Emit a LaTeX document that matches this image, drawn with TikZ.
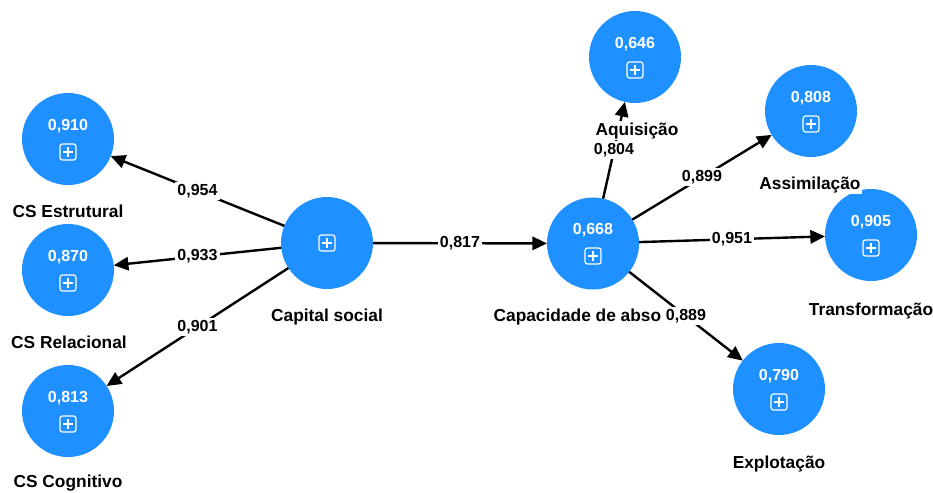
\documentclass[tikz,border=0pt]{standalone}
\usepackage{fontspec}
\setmainfont{Liberation Sans}
\usetikzlibrary{arrows.meta}
\definecolor{lvblue}{RGB}{30,144,255}
\begin{document}
\begin{tikzpicture}[x=0.75pt,y=-0.75pt,
  lv/.style={circle, fill=lvblue, minimum size=69pt, inner sep=0pt, outer sep=0pt},
  val/.style={text=white, font=\fontsize{12}{14}\selectfont\bfseries, inner sep=0pt},
  plusbox/.style={draw=white, line width=0.9pt, rounded corners=1.8pt,
    minimum size=12pt, inner sep=0pt,
    path picture={\draw[white,line width=0.9pt]
      ([xshift=-3.6pt]path picture bounding box.center) -- ([xshift=3.6pt]path picture bounding box.center)
      ([yshift=-3.6pt]path picture bounding box.center) -- ([yshift=3.6pt]path picture bounding box.center);}},
  lvname/.style={fill=white, inner sep=1pt, anchor=base, font=\fontsize{13}{15}\selectfont\bfseries},
  link/.style={line width=1.8pt, -{Triangle[length=11pt,width=10pt]}},
  wt/.style={fill=white, inner sep=1.5pt, font=\fontsize{12}{14}\selectfont\bfseries}
]
\useasboundingbox (0,0) rectangle (933,493);

% latent variables
\node[lv] (est) at (68,139) {};
\node[lv] (rel) at (68,270) {};
\node[lv] (cog) at (68,411) {};
\node[lv] (cs)  at (327,243) {};
\node[lv] (cap) at (593,243.5) {};
\node[lv] (aqu) at (635,57) {};
\node[lv] (ass) at (811,111) {};
\node[lv] (tra) at (871,235) {};
\node[lv] (exp) at (779,389) {};

% R-squared values and expand icons
\node[val] (est-v) at (68,126) {0,910};
\node[plusbox] (est-i) at (68,152) {};
\node[val] (rel-v) at (68,257) {0,870};
\node[plusbox] (rel-i) at (68,283) {};
\node[val] (cog-v) at (68,398) {0,813};
\node[plusbox] (cog-i) at (68,424) {};
\node[plusbox] (cs-i) at (327,243) {};
\node[val] (cap-v) at (593,230) {0,668};
\node[plusbox] (cap-i) at (593,256) {};
\node[val] (aqu-v) at (635,44) {0,646};
\node[plusbox] (aqu-i) at (635,70) {};
\node[val] (ass-v) at (811,98) {0,808};
\node[plusbox] (ass-i) at (811,124) {};
\node[val] (tra-v) at (871,222) {0,905};
\node[plusbox] (tra-i) at (871,248) {};
\node[val] (exp-v) at (779,376) {0,790};
\node[plusbox] (exp-i) at (779,402) {};

% path coefficients and loadings
\draw[link] (cs) -- node[wt] (l1) {0,954} (est);
\draw[link] (cs) -- node[wt] (l2) {0,933} (rel);
\draw[link] (cs) -- node[wt] (l3) {0,901} (cog);
\draw[link] (cs) -- node[wt] (l4) {0,817} (cap);
\draw[link] (cap) -- node[wt] (l5) {0,804} (aqu);
\draw[link] (cap) -- node[wt] (l6) {0,899} (ass);
\draw[link] (cap) -- node[wt] (l7) {0,951} (tra);

% construct names
\node[lvname] (est-n) at (68,217) {CS Estrutural};
\node[lvname] (rel-n) at (69,348) {CS Relacional};
\node[lvname] (cog-n) at (68,487) {CS Cognitivo};
\node[lvname] (cs-n)  at (327,321) {Capital social};
\node[lvname, anchor=base west] (cap-n) at (492,321) {Capacidade de abso};
\node[lvname] (aqu-n) at (637,135) {Aquisição};
\node[lvname] (ass-n) at (810,189) {Assimilação};
\node[lvname] (tra-n) at (871,315) {Transformação};
\node[lvname] (exp-n) at (779,468) {Explotação};

\draw[link] (cap) -- node[wt] (l8) {0,889} (exp);
\end{tikzpicture}
\end{document}
